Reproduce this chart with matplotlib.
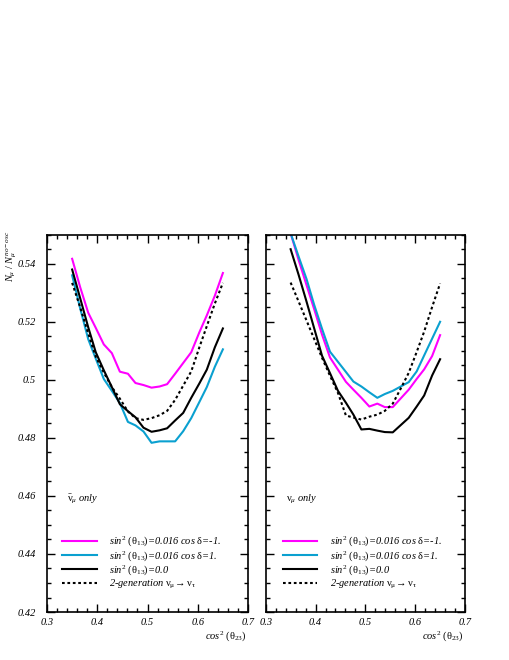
import matplotlib
matplotlib.use("Agg")
import matplotlib.pyplot as plt
from matplotlib.ticker import MultipleLocator, FormatStrFormatter
from matplotlib.font_manager import FontProperties

plt.rcParams['font.family'] = ['Liberation Serif', 'DejaVu Serif']
plt.rcParams['mathtext.fontset'] = 'custom'
plt.rcParams['mathtext.rm'] = 'Liberation Serif'
plt.rcParams['mathtext.it'] = 'Liberation Serif:italic'
plt.rcParams['mathtext.bf'] = 'Liberation Serif:bold'

# cos^2(theta23) grid
cos2 = [0.350, 0.366, 0.382, 0.397, 0.413, 0.429, 0.445, 0.461, 0.476, 0.492,
        0.508, 0.524, 0.539, 0.555, 0.571, 0.587, 0.603, 0.618, 0.634, 0.650]

# antineutrino panel
anu_minus = [0.5417, 0.5319, 0.5231, 0.5179, 0.5122, 0.5092, 0.5028, 0.5021, 0.4989, 0.4982,
             0.4973, 0.4977, 0.4985, 0.5021, 0.5058, 0.5095, 0.5163, 0.5222, 0.5290, 0.5368]
anu_plus = [0.5360, 0.5246, 0.5140, 0.5073, 0.5003, 0.4962, 0.4920, 0.4855, 0.4843, 0.4822,
            0.4783, 0.4788, 0.4788, 0.4788, 0.4823, 0.4868, 0.4923, 0.4975, 0.5045, 0.5105]
anu_zero = [0.5380, 0.5281, 0.5181, 0.5095, 0.5033, 0.4975, 0.4916, 0.4892, 0.4871, 0.4835,
            0.4821, 0.4826, 0.4833, 0.4860, 0.4886, 0.4938, 0.4987, 0.5035, 0.5112, 0.5177]
anu_2gen = [0.5334, 0.5250, 0.5160, 0.5080, 0.5025, 0.4975, 0.4935, 0.4891, 0.4868, 0.4862,
            0.4868, 0.4878, 0.4893, 0.4931, 0.4980, 0.5029, 0.5111, 0.5185, 0.5263, 0.5334]

# neutrino panel
nu_minus = [0.5505, 0.5413, 0.5326, 0.5245, 0.5156, 0.5077, 0.5035, 0.4993, 0.4966, 0.4938,
            0.4908, 0.4918, 0.4906, 0.4906, 0.4936, 0.4966, 0.5003, 0.5036, 0.5082, 0.5154]
nu_plus = [0.5505, 0.5425, 0.5347, 0.5260, 0.5176, 0.5097, 0.5062, 0.5027, 0.4994, 0.4977,
           0.4957, 0.4938, 0.4951, 0.4962, 0.4977, 0.4992, 0.5029, 0.5084, 0.5142, 0.5200]
nu_zero = [0.5450, 0.5362, 0.5269, 0.5179, 0.5083, 0.5023, 0.4962, 0.4921, 0.4880, 0.4829,
           0.4831, 0.4825, 0.4820, 0.4819, 0.4844, 0.4869, 0.4908, 0.4946, 0.5015, 0.5071]
nu_2gen = [0.5335, 0.5270, 0.5204, 0.5142, 0.5076, 0.5014, 0.4955, 0.4877, 0.4870, 0.4863,
           0.4873, 0.4880, 0.4893, 0.4918, 0.4970, 0.5024, 0.5096, 0.5166, 0.5251, 0.5332]

labels = [r"$sin^2\ (\mathrm{\theta}_{13})$=0.016 cos $\mathrm{\delta}$=-1.",
          r"$sin^2\ (\mathrm{\theta}_{13})$=0.016 cos $\mathrm{\delta}$=1.",
          r"$sin^2\ (\mathrm{\theta}_{13})$=0.0",
          r"2-generation $\mathrm{\nu_\mu}\!\rightarrow \mathrm{\nu_\tau}$"]

MAGENTA = "#ff00ff"
CYAN = "#0aa0d0"
lw = 1.5
fs = 7.5
fp = FontProperties(family='Liberation Serif', style='italic', size=fs)

fig = plt.figure(figsize=(5.1, 6.6), dpi=100)
axL = fig.add_axes([0.0922, 0.0727, 0.3941, 0.5717])
axR = fig.add_axes([0.5210, 0.0727, 0.3908, 0.5717])

panels = [
    (axL, anu_minus, anu_plus, anu_zero, anu_2gen, r"$\bar{\mathrm{\nu}}_\mu$ only", 0.055),
    (axR, nu_minus, nu_plus, nu_zero, nu_2gen, r"$\mathrm{\nu}_\mu$ only", 0.065),
]

for ax, ym, yp, y0, y2, tag, legx in panels:
    ax.plot(cos2, ym, color=MAGENTA, lw=lw, label=labels[0])
    ax.plot(cos2, yp, color=CYAN, lw=lw, label=labels[1])
    ax.plot(cos2, y0, color="black", lw=lw, label=labels[2])
    ax.plot(cos2, y2, color="black", lw=lw, ls=(0, (1.3, 1.3)), label=labels[3])

    ax.set_xlim(0.3, 0.7)
    ax.set_ylim(0.42, 0.55)
    ax.xaxis.set_major_locator(MultipleLocator(0.1))
    ax.xaxis.set_minor_locator(MultipleLocator(0.02))
    ax.yaxis.set_major_locator(MultipleLocator(0.02))
    ax.yaxis.set_minor_locator(MultipleLocator(0.005))
    ax.xaxis.set_major_formatter(FormatStrFormatter('%g'))
    ax.yaxis.set_major_formatter(FormatStrFormatter('%g'))
    ax.tick_params(which='both', direction='in', top=True, right=True, width=1.0)
    ax.tick_params(which='major', length=6)
    ax.tick_params(which='minor', length=3)
    ax.tick_params(axis='x', pad=4)
    ax.tick_params(axis='y', pad=8)
    for lab in ax.get_xticklabels() + ax.get_yticklabels():
        lab.set_fontproperties(fp)
    for sp in ax.spines.values():
        sp.set_linewidth(1.2)

    ax.text(0.10, 0.298, tag, transform=ax.transAxes, fontproperties=fp,
            ha='left', va='center')
    ax.text(0.995, -0.045, r"$cos^2\ (\mathrm{\theta}_{23})$", transform=ax.transAxes,
            fontproperties=fp, ha='right', va='top')

    ax.legend(loc='lower left', bbox_to_anchor=(legx, 0.045),
              frameon=False, prop=fp, handlelength=3.3, handletextpad=1.2,
              labelspacing=0.05, borderaxespad=0.0)

axR.tick_params(axis='y', labelleft=False)

fig.text(12 / 510, 1 - 231 / 660, r"$N_\mu\ /\ N_\mu^{no-osc}$", rotation=90,
         ha='center', va='top', fontproperties=fp)

fig.savefig("out.png", dpi=100)
